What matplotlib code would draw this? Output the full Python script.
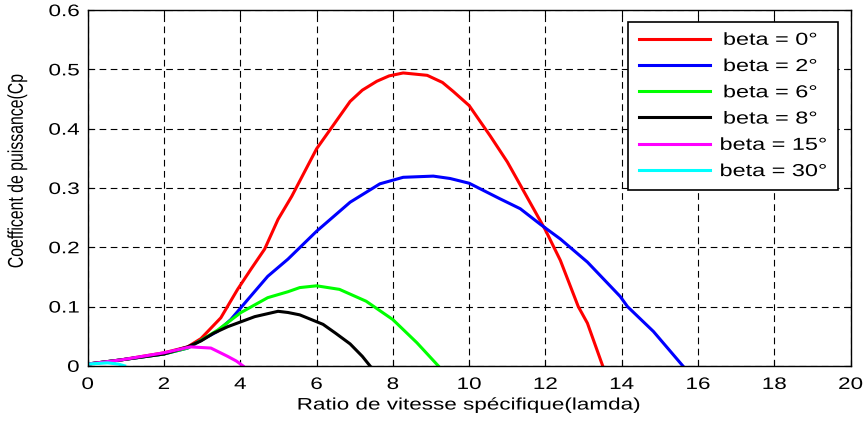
import matplotlib
matplotlib.use("Agg")
import matplotlib.pyplot as plt
from matplotlib.patheffects import AbstractPathEffect
from matplotlib.transforms import Affine2D

plt.rcParams["font.family"] = ["Liberation Sans", "DejaVu Sans"]

# valeurs (lamda, Cp)
lam_0 = [0, 0.87, 2.0, 2.62, 2.97, 3.49, 3.93, 4.28, 4.64, 4.99, 5.35, 6.0, 6.88, 7.2, 7.58, 7.9, 8.27, 8.9, 9.3, 9.58, 10.0, 10.55, 11.0, 11.34, 12.0, 12.39, 12.86, 13.1, 13.5]
cp_0 = [0.003, 0.01, 0.022, 0.032, 0.046, 0.081, 0.129, 0.163, 0.197, 0.247, 0.286, 0.366, 0.446, 0.465, 0.48, 0.489, 0.494, 0.49, 0.478, 0.463, 0.439, 0.388, 0.344, 0.305, 0.229, 0.178, 0.1, 0.072, 0]

lam_2 = [0, 0.87, 2.0, 2.62, 2.97, 3.4, 3.75, 4.2, 4.72, 5.25, 6.0, 6.88, 7.66, 8.27, 9.06, 9.5, 10.0, 10.37, 10.8, 11.34, 11.86, 12.39, 13.1, 13.96, 14.15, 14.83, 15.6]
cp_2 = [0.003, 0.01, 0.02, 0.03, 0.043, 0.058, 0.078, 0.112, 0.151, 0.18, 0.227, 0.276, 0.307, 0.318, 0.32, 0.316, 0.308, 0.296, 0.282, 0.265, 0.239, 0.214, 0.175, 0.117, 0.1, 0.058, 0]

lam_6 = [0, 0.87, 2.0, 2.62, 2.97, 3.4, 4.02, 4.72, 5.25, 5.56, 6.0, 6.6, 7.3, 8.0, 8.63, 9.19]
cp_6 = [0.003, 0.01, 0.02, 0.03, 0.043, 0.06, 0.09, 0.115, 0.125, 0.132, 0.135, 0.129, 0.109, 0.078, 0.039, 0]

lam_8 = [0, 0.87, 2.0, 2.62, 2.97, 3.3, 3.67, 4.38, 4.99, 5.25, 5.56, 6.17, 6.5, 6.88, 7.2, 7.4]
cp_8 = [0.003, 0.01, 0.02, 0.032, 0.042, 0.055, 0.066, 0.083, 0.092, 0.09, 0.086, 0.07, 0.055, 0.037, 0.016, 0]

lam_15 = [0, 0.87, 2.0, 2.62, 2.7, 3.23, 3.67, 3.9, 4.07]
cp_15 = [0.003, 0.01, 0.022, 0.031, 0.032, 0.03, 0.016, 0.008, 0]

lam_30 = [0, 0.52, 0.8, 0.97]
cp_30 = [0.003, 0.005, 0.003, 0]

series = [
    (lam_0, cp_0, "red", "beta = 0°"),
    (lam_2, cp_2, "blue", "beta = 2°"),
    (lam_6, cp_6, "lime", "beta = 6°"),
    (lam_8, cp_8, "black", "beta = 8°"),
    (lam_15, cp_15, "magenta", "beta = 15°"),
    (lam_30, cp_30, "cyan", "beta = 30°"),
]


# le texte de l'image d'origine est etire en largeur
class Etire(AbstractPathEffect):
    def __init__(self, sx=1.35, ancre="center"):
        super().__init__()
        self.sx = sx
        self.ancre = ancre

    def draw_path(self, renderer, gc, tpath, affine, rgbFace=None):
        bb = tpath.get_extents(affine)
        cx = {"left": bb.x0, "right": bb.x1, "center": (bb.x0 + bb.x1) / 2}[self.ancre]
        aff = affine + Affine2D().translate(-cx, 0).scale(self.sx, 1).translate(cx, 0)
        renderer.draw_path(gc, tpath, aff, rgbFace)


fig = plt.figure(figsize=(8.68, 4.21), dpi=100)
ax = fig.add_axes([0.101, 0.131, 0.879, 0.845])

for x, y, c, lab in series:
    ax.plot(x, y, color=c, lw=2.2, label=lab)

ax.set_xlim(0, 20)
ax.set_ylim(0, 0.6)
ax.set_xticks(range(0, 21, 2))
ax.set_yticks([0, 0.1, 0.2, 0.3, 0.4, 0.5, 0.6])
ax.set_yticklabels(["0", "0.1", "0.2", "0.3", "0.4", "0.5", "0.6"])
ax.grid(True, color="black", linestyle=(0, (6, 4)), linewidth=0.8)
ax.tick_params(direction="in", top=True, right=True, labelsize=12, length=4)
ax.tick_params(axis="x", pad=8)
ax.tick_params(axis="y", pad=6)
for s in ax.spines.values():
    s.set_linewidth(1.0)

ax.set_xlabel("Ratio de vitesse spécifique(lamda)", fontsize=12, labelpad=4)
ax.set_ylabel("Coefficent de puissance(Cp", fontsize=11.4)
ax.yaxis.set_label_coords(-0.083, 0.548)

for t in ax.get_xticklabels():
    t.set_path_effects([Etire(1.35, "center")])
for t in ax.get_yticklabels():
    t.set_path_effects([Etire(1.35, "right")])
ax.xaxis.label.set_path_effects([Etire(1.35, "center")])
ax.yaxis.label.set_path_effects([Etire(1.35, "center")])

leg = ax.legend(loc="upper right", fontsize=12.5, fancybox=False, framealpha=1,
                edgecolor="black", handlelength=4.1, handletextpad=2.15,
                borderpad=0.6, labelspacing=0.64, borderaxespad=0,
                bbox_to_anchor=(0.983, 0.966))
leg.get_frame().set_linewidth(1.2)
for t in leg.get_texts():
    t.set_path_effects([Etire(1.35, "right")])

fig.savefig("out.png", dpi=100)
